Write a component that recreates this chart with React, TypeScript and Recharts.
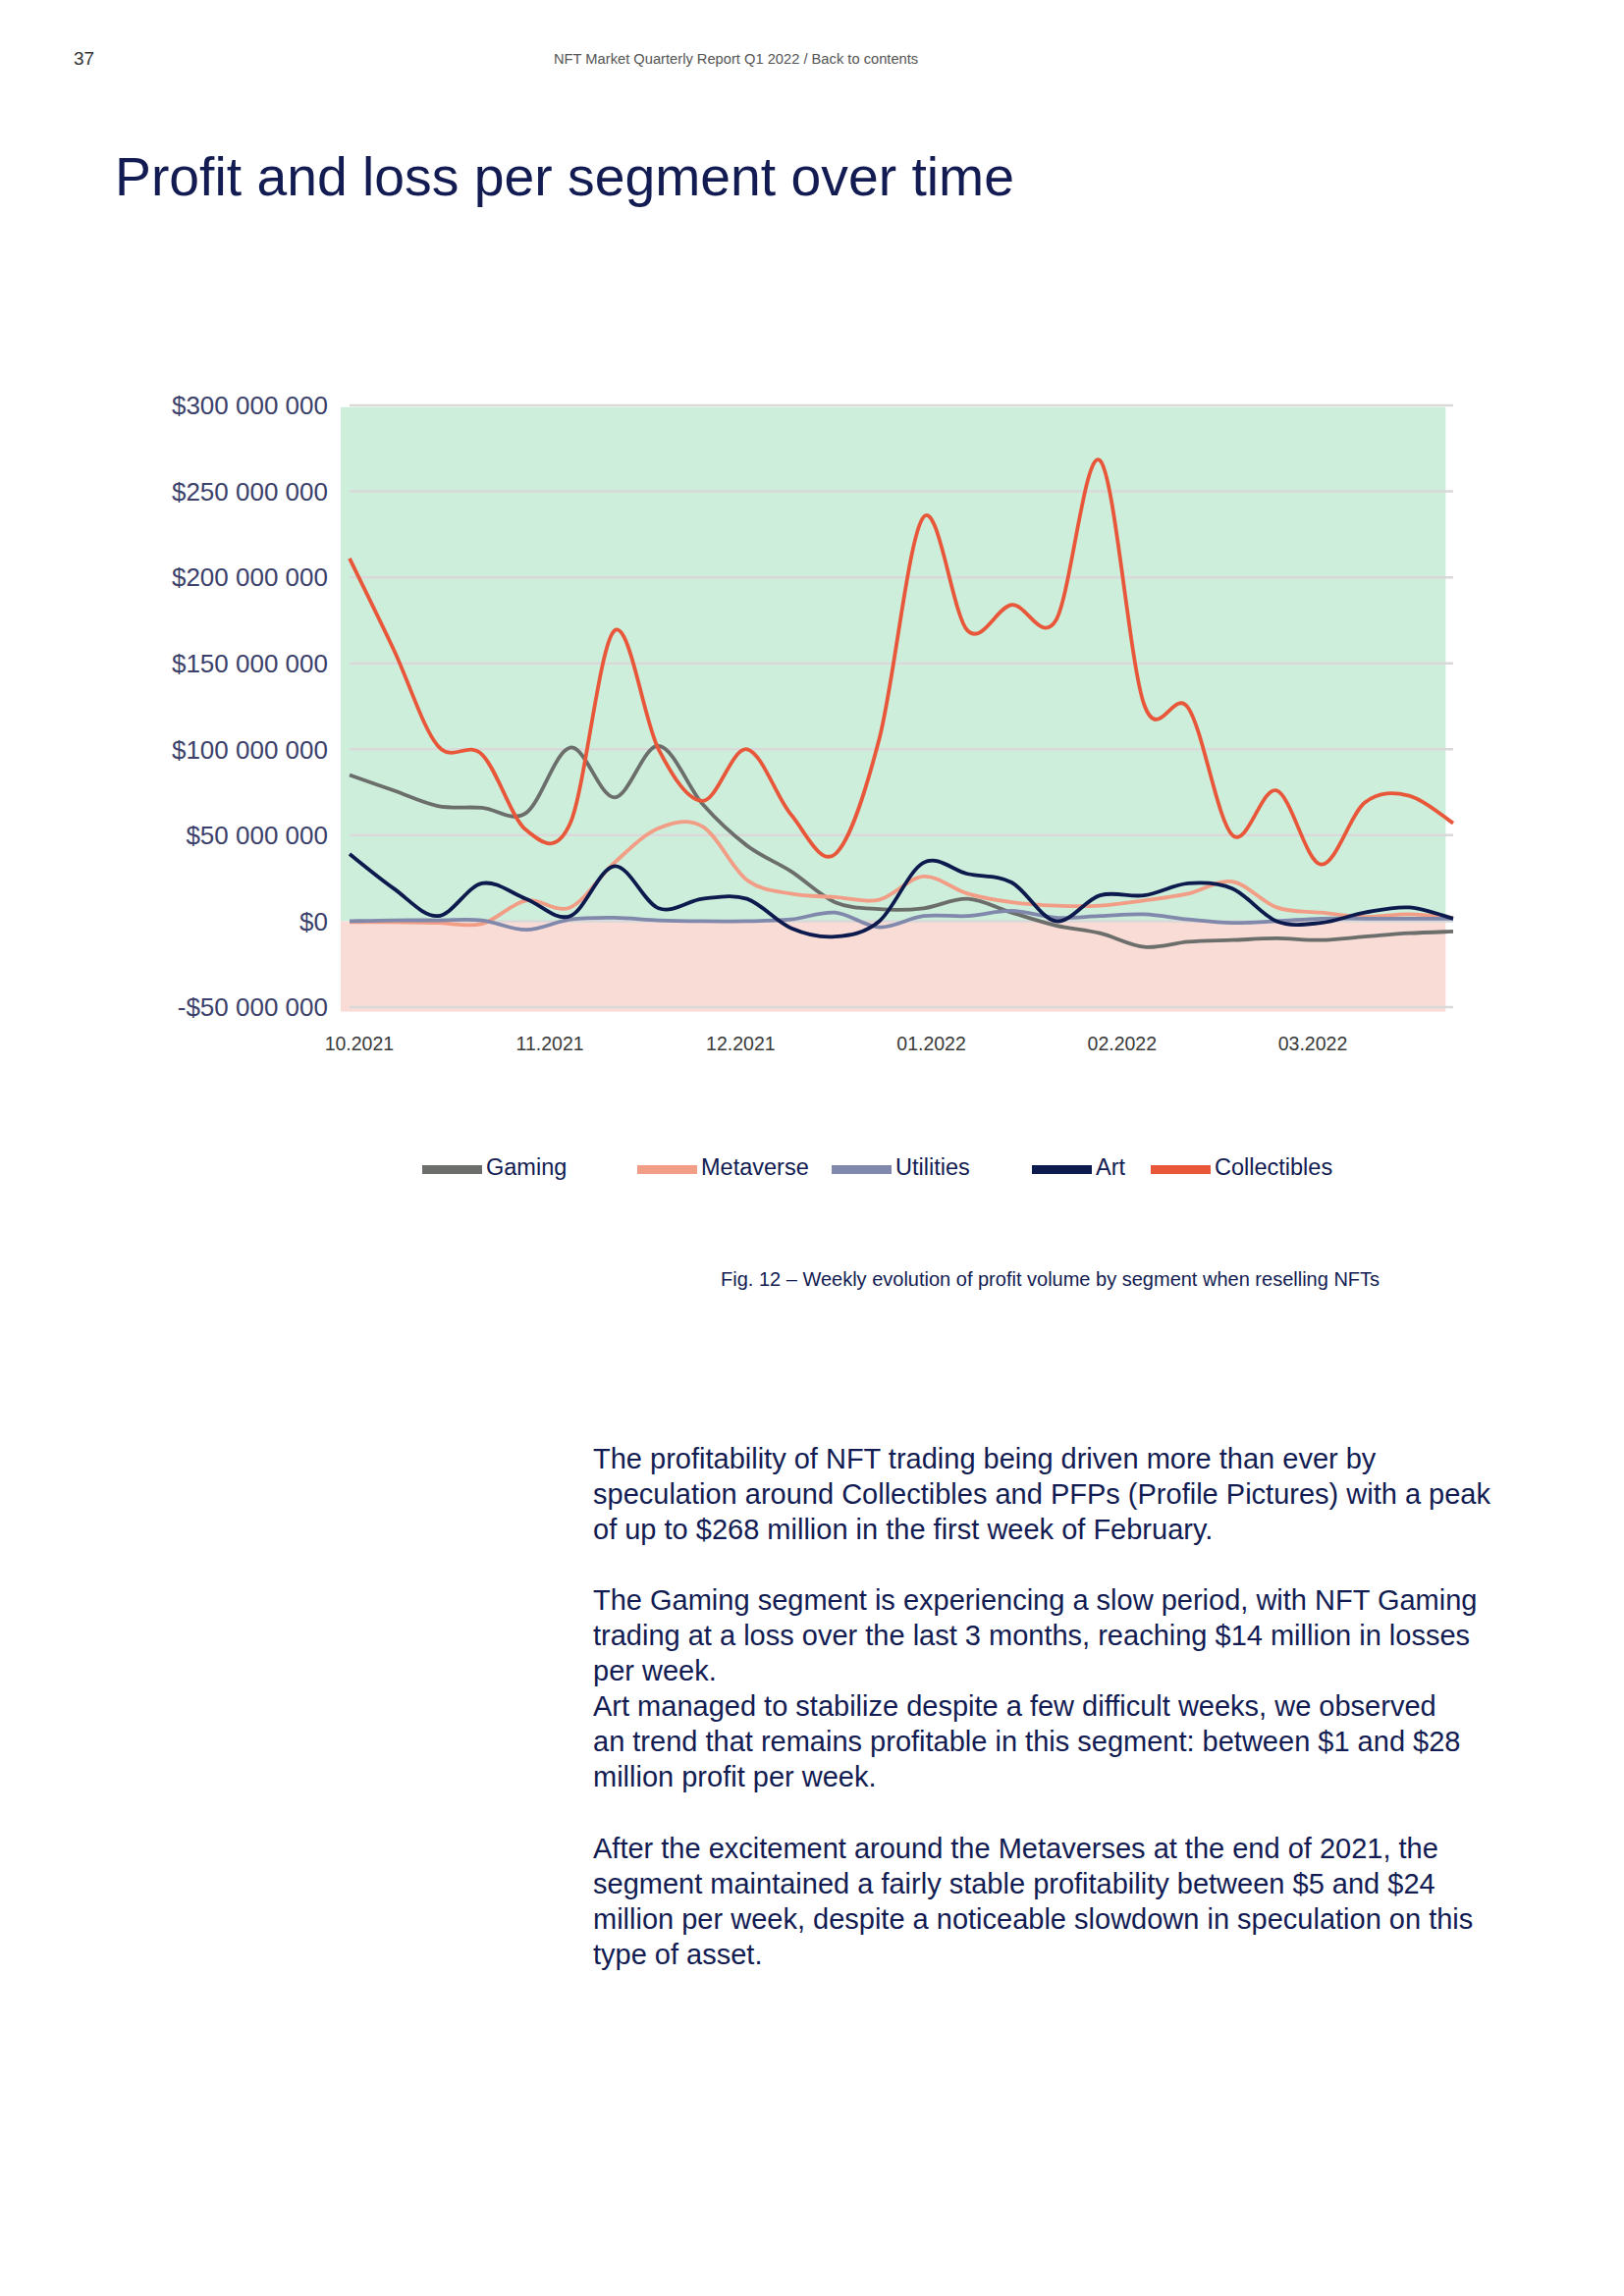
import React from 'react';
import { LineChart, Line, XAxis, YAxis, ReferenceArea, ReferenceLine } from 'recharts';

// weekly points, Oct 2021 -> end of Mar 2022 (values in $ millions)
const WEEKS = [0, 1, 2, 3, 4, 5, 6, 7, 8, 9, 10, 11, 12, 13, 14, 15, 16, 17, 18, 19, 20, 21, 22, 23, 24, 25];
const GAMING = [85, 76, 67, 66, 63, 101, 72, 102, 68, 44, 29, 11, 7, 7.5, 13, 5, -2.5, -7, -15, -12, -11, -10, -11, -9, -7, -6];
const METAVERSE = [-0.5, -0.5, -1, -1.5, 12, 8, 34, 54, 55, 24, 16, 14, 12.5, 26, 16, 11, 9, 9, 12, 16, 23, 8, 5, 2.5, 4, 2];
const UTILITIES = [0, 0.5, 0.5, 0.5, -5, 1, 2, 0.5, 0, 0, 1, 5, -3.5, 3, 3, 6, 2, 3, 4, 1, -1, 0, 1.5, 1.5, 1.5, 1.5];
const ART = [39, 19, 3, 22, 13, 3, 32, 7.5, 13, 13, -4, -9, 0, 34, 27.5, 22.5, 0, 15, 15, 22, 19, 0, -1, 5, 8, 1.5];
const COLLECTIBLES = [211, 158, 102, 97, 53, 57, 169, 100, 70, 100, 62, 39, 106, 235, 169, 184, 175, 268, 126, 124, 50, 76, 33, 69, 73, 57];

const Y_TICKS = [-50, 0, 50, 100, 150, 200, 250, 300];
const MONTH_LABELS = ['10.2021', '11.2021', '12.2021', '01.2022', '02.2022', '03.2022'];
const MONTH_TICK_WEEKS = [0.22, 4.54, 8.86, 13.18, 17.5, 21.82];

const SERIES = [
  { key: 'gaming', name: 'Gaming', color: '#6b6e6b', values: GAMING },
  { key: 'metaverse', name: 'Metaverse', color: '#f29e87', values: METAVERSE },
  { key: 'utilities', name: 'Utilities', color: '#8088ab', values: UTILITIES },
  { key: 'art', name: 'Art', color: '#0c1a4e', values: ART },
  { key: 'collectibles', name: 'Collectibles', color: '#e9573a', values: COLLECTIBLES },
];

const LEGEND_X = [430, 649, 847, 1051, 1172];

const BODY_LINES = [
  'The profitability of NFT trading being driven more than ever by',
  'speculation around Collectibles and PFPs (Profile Pictures) with a peak',
  'of up to $268 million in the first week of February.',
  '',
  'The Gaming segment is experiencing a slow period, with NFT Gaming',
  'trading at a loss over the last 3 months, reaching $14 million in losses',
  'per week.',
  'Art managed to stabilize despite a few difficult weeks, we observed',
  'an trend that remains profitable in this segment: between $1 and $28',
  'million profit per week.',
  '',
  'After the excitement around the Metaverses at the end of 2021, the',
  'segment maintained a fairly stable profitability between $5 and $24',
  'million per week, despite a noticeable slowdown in speculation on this',
  'type of asset.',
];

const data = WEEKS.map((week, i) => {
  const row: Record<string, number> = { week };
  SERIES.forEach((s) => {
    row[s.key] = s.values[i];
  });
  return row;
});

// Excel-like smoothed line (uniform Catmull-Rom through every point)
function smoothCurve(context: any) {
  let xs: number[] = [];
  let ys: number[] = [];
  return {
    areaStart() {},
    areaEnd() {},
    lineStart() {
      xs = [];
      ys = [];
    },
    lineEnd() {
      const n = xs.length;
      if (!n) return;
      context.moveTo(xs[0], ys[0]);
      for (let i = 0; i < n - 1; i++) {
        const a = Math.max(i - 1, 0);
        const d = Math.min(i + 2, n - 1);
        context.bezierCurveTo(
          xs[i] + (xs[i + 1] - xs[a]) / 6,
          ys[i] + (ys[i + 1] - ys[a]) / 6,
          xs[i + 1] - (xs[d] - xs[i]) / 6,
          ys[i + 1] - (ys[d] - ys[i]) / 6,
          xs[i + 1],
          ys[i + 1]
        );
      }
    },
    point(x: number, y: number) {
      xs.push(+x);
      ys.push(+y);
    },
  };
}

const formatDollars = (v: number) => {
  const abs = Math.round(Math.abs(v) * 1e6)
    .toString()
    .replace(/\B(?=(\d{3})+(?!\d))/g, ' ');
  return `${v < 0 ? '-' : ''}$${abs}`;
};

const formatMonth = (v: number) => {
  const idx = MONTH_TICK_WEEKS.indexOf(v);
  return idx >= 0 ? MONTH_LABELS[idx] : '';
};

const NAVY = '#121c52';
const FONT = '"Liberation Sans", Arial, Helvetica, sans-serif';

export default function App() {
  return (
    <div
      style={{
        position: 'absolute',
        left: 0,
        top: 0,
        width: 1654,
        height: 2339,
        background: '#ffffff',
        fontFamily: FONT,
        overflow: 'hidden',
      }}
    >
      <div style={{ position: 'absolute', left: 75, top: 48, lineHeight: '24px', fontSize: 19, color: '#333' }}>37</div>
      <div style={{ position: 'absolute', left: 564, top: 48, lineHeight: '24px', fontSize: 14.7, color: '#555' }}>
        NFT Market Quarterly Report Q1 2022 / Back to contents
      </div>

      <div
        style={{
          position: 'absolute',
          left: 117,
          top: 150,
          lineHeight: '60px',
          fontSize: 55.3,
          color: NAVY,
          whiteSpace: 'nowrap',
        }}
      >
        Profit and loss per segment over time
      </div>

      <div style={{ position: 'absolute', left: 0, top: 380 }}>
        <LineChart width={1654} height={720} data={data} margin={{ top: 33, right: 174, bottom: 14, left: 0 }}>
          <ReferenceArea
            x1={-0.2}
            x2={24.83}
            y1={0}
            y2={299}
            fill="#cdeedb"
            fillOpacity={1}
            stroke="none"
            ifOverflow="visible"
          />
          <ReferenceArea
            x1={-0.2}
            x2={24.83}
            y1={-52.5}
            y2={0}
            fill="#fadcd6"
            fillOpacity={1}
            stroke="none"
            ifOverflow="visible"
          />
          {Y_TICKS.map((t) => (
            <ReferenceLine key={t} y={t} stroke="#d9d9d9" strokeWidth={2.5} ifOverflow="visible" />
          ))}
          <XAxis
            dataKey="week"
            type="number"
            domain={[0, 25]}
            ticks={MONTH_TICK_WEEKS}
            tickFormatter={formatMonth}
            axisLine={false}
            tickLine={false}
            tickSize={0}
            tickMargin={30}
            height={60}
            interval={0}
            tick={{ fill: '#3a3a3a', fontSize: 19.5, fontFamily: FONT }}
          />
          <YAxis
            type="number"
            domain={[-50, 300]}
            ticks={Y_TICKS}
            tickFormatter={formatDollars}
            axisLine={false}
            tickLine={false}
            tickSize={0}
            tickMargin={22}
            width={356}
            interval={0}
            tick={{ fill: '#3b416b', fontSize: 26, fontFamily: FONT }}
          />
          {SERIES.map((s) => (
            <Line
              key={s.key}
              dataKey={s.key}
              name={s.name}
              type={smoothCurve as any}
              stroke={s.color}
              strokeWidth={3.8}
              dot={false}
              activeDot={false}
              isAnimationActive={false}
            />
          ))}
        </LineChart>
      </div>

      {SERIES.map((s, i) => (
        <div
          key={s.key}
          style={{
            position: 'absolute',
            left: LEGEND_X[i],
            top: 1174,
            height: 30,
            display: 'flex',
            alignItems: 'center',
            whiteSpace: 'nowrap',
          }}
        >
          <span style={{ display: 'inline-block', width: 61, height: 9, background: s.color, marginTop: 4 }} />
          <span style={{ marginLeft: 4, fontSize: 23.5, color: NAVY, lineHeight: '30px' }}>{s.name}</span>
        </div>
      ))}

      <div
        style={{
          position: 'absolute',
          left: 734,
          top: 1291,
          lineHeight: '24px',
          fontSize: 20,
          color: NAVY,
          whiteSpace: 'nowrap',
        }}
      >
        Fig. 12 – Weekly evolution of profit volume by segment when reselling NFTs
      </div>

      <div style={{ position: 'absolute', left: 604, top: 1467.5, fontSize: 29, color: NAVY }}>
        {BODY_LINES.map((line, i) => (
          <div key={i} style={{ height: 36.1, lineHeight: '36.1px', whiteSpace: 'nowrap' }}>
            {line}
          </div>
        ))}
      </div>
    </div>
  );
}
